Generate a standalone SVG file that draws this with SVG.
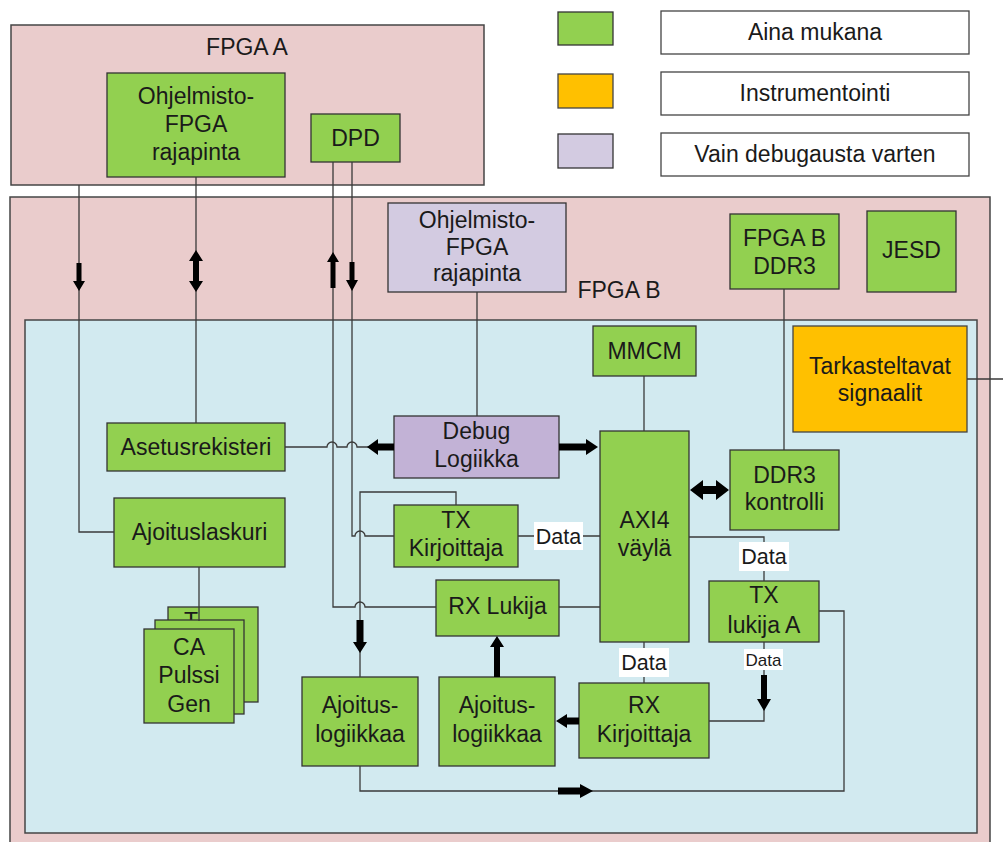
<svg xmlns="http://www.w3.org/2000/svg" width="1003" height="842" viewBox="0 0 1003 842">
<style>
.fpga{fill:#EACCCC;stroke:#454545;stroke-width:1.5}
.core{fill:#D2EAF0;stroke:#454545;stroke-width:1.5}
.g{fill:#92D050;stroke:#333;stroke-width:1.3}
.o{fill:#FFC000;stroke:#444;stroke-width:1.3}
.p{fill:#D3CBE1;stroke:#333;stroke-width:1.3}
.pd{fill:#C2B2D6;stroke:#333;stroke-width:1.3}
.lg{fill:#fff;stroke:#444;stroke-width:1.3}
text{font-family:"Liberation Sans",Arial,sans-serif;font-size:23px;fill:#1a1a1a;text-anchor:middle}
.data{font-size:21.5px}
.small{font-size:17px}
.w{fill:#fff}
.ln{fill:none;stroke:#3a3a3a;stroke-width:1.3}
.ar{fill:#000}
</style>

<!-- containers -->
<g id="fpga-a">
  <rect class="fpga" x="11" y="25" width="473" height="160"/>
  <text x="247" y="55">FPGA A</text>
</g>
<g id="fpga-b">
  <rect class="fpga" x="10" y="197" width="980" height="660"/>
  <text x="619" y="298">FPGA B</text>
</g>
<rect id="core" class="core" x="25" y="320" width="952" height="513"/>

<!-- legend -->
<g id="legend">
  <rect class="g" x="558" y="12" width="55" height="33"/>
  <rect class="o" x="558" y="74" width="55" height="34"/>
  <rect class="p" x="558" y="134" width="55" height="34"/>
  <rect class="lg" x="661" y="11" width="308" height="43"/>
  <rect class="lg" x="661" y="72" width="308" height="43"/>
  <rect class="lg" x="661" y="133" width="308" height="43"/>
  <text x="815" y="40">Aina mukana</text>
  <text x="815" y="101">Instrumentointi</text>
  <text x="815" y="162">Vain debugausta varten</text>
</g>

<!-- nodes -->
<g id="sw-if-a">
  <rect class="g" x="107" y="73" width="178" height="104"/>
  <text x="196" y="104">Ohjelmisto-</text>
  <text x="196" y="132">FPGA</text>
  <text x="196" y="160">rajapinta</text>
</g>
<g id="dpd">
  <rect class="g" x="311" y="114" width="89" height="48"/>
  <text x="355.5" y="146">DPD</text>
</g>
<g id="sw-if-b">
  <rect class="p" x="388" y="203" width="178" height="89"/>
  <text x="477" y="228">Ohjelmisto-</text>
  <text x="477" y="255">FPGA</text>
  <text x="477" y="281">rajapinta</text>
</g>
<g id="ddr3-b">
  <rect class="g" x="730" y="214" width="109" height="75"/>
  <text x="784.5" y="246">FPGA B</text>
  <text x="784.5" y="274">DDR3</text>
</g>
<g id="jesd">
  <rect class="g" x="867" y="211" width="89" height="81"/>
  <text x="911.5" y="258">JESD</text>
</g>
<g id="mmcm">
  <rect class="g" x="593" y="326" width="103" height="50"/>
  <text x="644.5" y="359">MMCM</text>
</g>
<g id="probes">
  <rect class="o" x="793" y="326" width="174" height="106"/>
  <text x="880" y="374">Tarkasteltavat</text>
  <text x="880" y="401">signaalit</text>
</g>
<g id="settings">
  <rect class="g" x="107" y="423" width="178" height="48"/>
  <text x="196" y="455">Asetusrekisteri</text>
</g>
<g id="debug">
  <rect class="pd" x="394" y="416" width="165" height="62"/>
  <text x="476.5" y="439">Debug</text>
  <text x="476.5" y="467">Logiikka</text>
</g>
<g id="axi">
  <rect class="g" x="600" y="431" width="89" height="211"/>
  <text x="644.5" y="528">AXI4</text>
  <text x="644.5" y="556">väylä</text>
</g>
<g id="ddr3-ctrl">
  <rect class="g" x="730" y="450" width="109" height="80"/>
  <text x="784.5" y="483">DDR3</text>
  <text x="784.5" y="510">kontrolli</text>
</g>
<g id="timer">
  <rect class="g" x="114" y="498" width="171" height="69"/>
  <text x="199.5" y="540">Ajoituslaskuri</text>
</g>
<g id="tx-writer">
  <rect class="g" x="394" y="505" width="124" height="62"/>
  <text x="456" y="528">TX</text>
  <text x="456" y="556">Kirjoittaja</text>
</g>
<g id="rx-reader">
  <rect class="g" x="436" y="580" width="123" height="56"/>
  <text x="497.5" y="614">RX Lukija</text>
</g>
<g id="tx-reader-a">
  <rect class="g" x="709" y="581" width="110" height="61"/>
  <text x="764" y="603">TX</text>
  <text x="764" y="633">lukija A</text>
</g>
<g id="pulse-gen">
  <!-- stacked generator cards, back to front -->
  <rect class="g" x="168" y="607" width="90" height="95"/>
  <text x="191" y="629">T</text>
  <rect class="g" x="155" y="620" width="89" height="94"/>
  <rect class="g" x="144" y="629" width="90" height="94"/>
  <text x="189" y="655">CA</text>
  <text x="189" y="683">Pulssi</text>
  <text x="189" y="712">Gen</text>
</g>
<g id="timing-1">
  <rect class="g" x="302" y="677" width="116" height="89"/>
  <text x="360" y="713">Ajoitus-</text>
  <text x="360" y="742">logiikkaa</text>
</g>
<g id="timing-2">
  <rect class="g" x="439" y="677" width="116" height="89"/>
  <text x="497" y="713">Ajoitus-</text>
  <text x="497" y="742">logiikkaa</text>
</g>
<g id="rx-writer">
  <rect class="g" x="579" y="683" width="130" height="75"/>
  <text x="644" y="713">RX</text>
  <text x="644" y="742">Kirjoittaja</text>
</g>

<!-- connectors -->
<g id="connectors">
  <path class="ln" d="M79,185 V532 H114"/>
  <path class="ln" d="M196,177 V423"/>
  <path class="ln" d="M333,162 V607 H355 a5,5 0 0 1 10,0 H436"/>
  <path class="ln" d="M352,162 V536 H355 a5,5 0 0 1 10,0 H394"/>
  <path class="ln" d="M285,447 H327 a5,5 0 0 1 10,0 H347 a5,5 0 0 1 10,0 H370"/>
  <path class="ln" d="M456,505 V492 H360 V677"/>
  <path class="ln" d="M477,292 V416"/>
  <path class="ln" d="M644,376 V431"/>
  <path class="ln" d="M784,289 V450"/>
  <path class="ln" d="M518,536 H600"/>
  <path class="ln" d="M559,607 H600"/>
  <path class="ln" d="M689,537 H764 V581"/>
  <path class="ln" d="M644,642 V683"/>
  <path class="ln" d="M764,642 V721 H709"/>
  <path class="ln" d="M819,611 H844 V791 H360 V766"/>
  <path class="ln" d="M199,567 V621"/>
  <path class="ln" d="M967,379 H1003"/>

  <!-- block arrows -->
  <polygon class="ar" points="76.5,263 81.5,263 81.5,281 85,281 79,291 73,281 76.5,281"/>
  <polygon class="ar" points="196,250 203,261 199,261 199,281 203,281 196,292 189,281 193,281 193,261 189,261"/>
  <polygon class="ar" points="333,252 339,262 335.5,262 335.5,288 330.5,288 330.5,262 327,262"/>
  <polygon class="ar" points="349.5,262 354.5,262 354.5,280 358,280 352,291 346,280 349.5,280"/>
  <polygon class="ar" points="367,447 378,439 378,443.5 394,443.5 394,450.5 378,450.5 378,455"/>
  <polygon class="ar" points="559,443.5 586,443.5 586,439 598,447 586,455 586,450.5 559,450.5"/>
  <polygon class="ar" points="690,490 703,480 703,486 716,486 716,480 729,490 716,500 716,494 703,494 703,500"/>
  <polygon class="ar" points="356.5,620 363.5,620 363.5,642 367,642 360,653 353,642 356.5,642"/>
  <polygon class="ar" points="497,636 504,647 500,647 500,677 494,677 494,647 490,647"/>
  <polygon class="ar" points="556,721 567,714 567,717.5 579,717.5 579,724.5 567,724.5 567,728"/>
  <polygon class="ar" points="558,787.5 580,787.5 580,784 593,791 580,798 580,794.5 558,794.5"/>
  <polygon class="ar" points="761,675 767,675 767,699 771,699 764,711 757,699 761,699"/>

  <!-- data labels -->
  <rect class="w" x="534" y="522" width="49" height="28"/>
  <text class="data" x="558.5" y="544">Data</text>
  <rect class="w" x="739" y="542" width="50" height="29"/>
  <text class="data" x="764" y="564">Data</text>
  <rect class="w" x="619" y="648" width="50" height="29"/>
  <text class="data" x="644" y="670">Data</text>
  <rect class="w" x="744" y="649" width="39" height="21"/>
  <text class="small" x="763.5" y="666">Data</text>
</g>
</svg>
